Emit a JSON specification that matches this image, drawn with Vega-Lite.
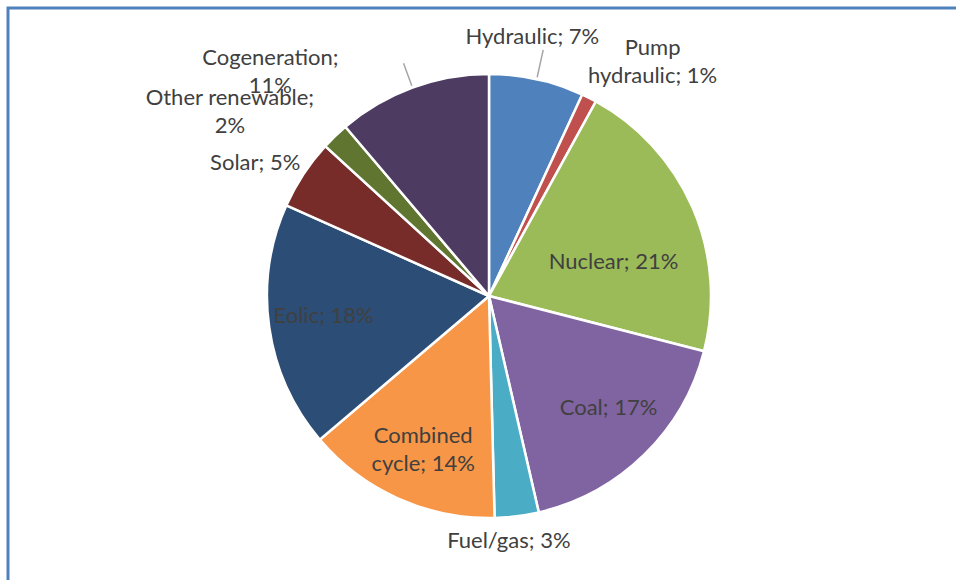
{
  "$schema": "https://vega.github.io/schema/vega-lite/v6.json",
  "width": 962,
  "height": 576,
  "padding": {"left": 8, "top": 8, "right": -14, "bottom": -4},
  "autosize": {"type": "none"},
  "background": "white",
  "view": {"stroke": "#4F81BD", "strokeWidth": 3, "fill": "white"},
  "data": {
    "values": [
      {"i": 1, "source": "Hydraulic", "share": 6.9, "label": "Hydraulic; 7%"},
      {"i": 2, "source": "Pump hydraulic", "share": 1.1, "label": "Pump\nhydraulic; 1%"},
      {"i": 3, "source": "Nuclear", "share": 21.0, "label": "Nuclear; 21%"},
      {"i": 4, "source": "Coal", "share": 17.4, "label": "Coal; 17%"},
      {"i": 5, "source": "Fuel/gas", "share": 3.2, "label": "Fuel/gas; 3%"},
      {"i": 6, "source": "Combined cycle", "share": 14.2, "label": "Combined\ncycle; 14%"},
      {"i": 7, "source": "Eolic", "share": 17.9, "label": "Eolic; 18%"},
      {"i": 8, "source": "Solar", "share": 5.1, "label": "Solar; 5%"},
      {"i": 9, "source": "Other renewable", "share": 2.0, "label": "Other renewable;\n2%"},
      {"i": 10, "source": "Cogeneration", "share": 11.2, "label": "Cogeneration;\n11%"}
    ]
  },
  "encoding": {
    "theta": {"field": "share", "type": "quantitative", "stack": true},
    "order": {"field": "i", "type": "quantitative"}
  },
  "layer": [
    {
      "mark": {"type": "arc", "outerRadius": 222, "stroke": "white", "strokeWidth": 2.5},
      "encoding": {
        "color": {
          "field": "source",
          "type": "nominal",
          "scale": {
            "domain": ["Hydraulic", "Pump hydraulic", "Nuclear", "Coal", "Fuel/gas", "Combined cycle", "Eolic", "Solar", "Other renewable", "Cogeneration"],
            "range": ["#4F81BD", "#C0504D", "#9BBB59", "#8064A2", "#4BACC6", "#F79646", "#2C4D75", "#772C2A", "#5F7530", "#4D3B62"]
          },
          "legend": null
        }
      }
    },
    {
      "mark": {"type": "arc", "innerRadius": 224, "outerRadius": 252, "padAngle": 3, "fillOpacity": 0, "stroke": "#A6A6A6", "strokeWidth": 1.5},
      "encoding": {"strokeOpacity": {"condition": {"test": "datum.source === 'Hydraulic'", "value": 1}, "value": 0}}
    },
    {
      "mark": {"type": "arc", "innerRadius": 224, "outerRadius": 248, "padAngle": 3, "fillOpacity": 0, "stroke": "#A6A6A6", "strokeWidth": 1.5},
      "encoding": {"strokeOpacity": {"condition": {"test": "datum.source === 'Cogeneration'", "value": 1}, "value": 0}}
    },
    {
      "mark": {"type": "text", "radius": 262, "dx": -13, "dy": -3, "font": "Lato", "fontSize": 22, "fill": "#404040", "align": "center", "baseline": "middle", "lineBreak": "\n", "lineHeight": 28},
      "encoding": {"text": {"condition": {"test": "datum.source === 'Hydraulic'", "field": "label", "type": "nominal"}, "value": ""}}
    },
    {
      "mark": {"type": "text", "radius": 285, "dx": 35, "dy": 6, "font": "Lato", "fontSize": 22, "fill": "#404040", "align": "center", "baseline": "middle", "lineBreak": "\n", "lineHeight": 28},
      "encoding": {"text": {"condition": {"test": "datum.source === 'Pump hydraulic'", "field": "label", "type": "nominal"}, "value": ""}}
    },
    {
      "mark": {"type": "text", "radius": 128, "dx": 7, "dy": 17, "font": "Lato", "fontSize": 22, "fill": "#404040", "align": "center", "baseline": "middle", "lineBreak": "\n", "lineHeight": 28},
      "encoding": {"text": {"condition": {"test": "datum.source === 'Nuclear'", "field": "label", "type": "nominal"}, "value": ""}}
    },
    {
      "mark": {"type": "text", "radius": 164, "dx": 5, "dy": -5, "font": "Lato", "fontSize": 22, "fill": "#404040", "align": "center", "baseline": "middle", "lineBreak": "\n", "lineHeight": 28},
      "encoding": {"text": {"condition": {"test": "datum.source === 'Coal'", "field": "label", "type": "nominal"}, "value": ""}}
    },
    {
      "mark": {"type": "text", "radius": 246, "dx": -11, "dy": 1, "font": "Lato", "fontSize": 22, "fill": "#404040", "align": "center", "baseline": "middle", "lineBreak": "\n", "lineHeight": 28},
      "encoding": {"text": {"condition": {"test": "datum.source === 'Fuel/gas'", "field": "label", "type": "nominal"}, "value": ""}}
    },
    {
      "mark": {"type": "text", "radius": 166, "dx": 2, "dy": -12, "font": "Lato", "fontSize": 22, "fill": "#404040", "align": "center", "baseline": "middle", "lineBreak": "\n", "lineHeight": 28},
      "encoding": {"text": {"condition": {"test": "datum.source === 'Combined cycle'", "field": "label", "type": "nominal"}, "value": ""}}
    },
    {
      "mark": {"type": "text", "radius": 161, "dx": -6, "dy": -3, "font": "Lato", "fontSize": 22, "fill": "#404040", "align": "center", "baseline": "middle", "lineBreak": "\n", "lineHeight": 28},
      "encoding": {"text": {"condition": {"test": "datum.source === 'Eolic'", "field": "label", "type": "nominal"}, "value": ""}}
    },
    {
      "mark": {"type": "text", "radius": 269, "dx": -9, "dy": 15, "font": "Lato", "fontSize": 22, "fill": "#404040", "align": "center", "baseline": "middle", "lineBreak": "\n", "lineHeight": 28},
      "encoding": {"text": {"condition": {"test": "datum.source === 'Solar'", "field": "label", "type": "nominal"}, "value": ""}}
    },
    {
      "mark": {"type": "text", "radius": 313, "dx": -42, "dy": 27, "font": "Lato", "fontSize": 22, "fill": "#404040", "align": "center", "baseline": "middle", "lineBreak": "\n", "lineHeight": 28},
      "encoding": {"text": {"condition": {"test": "datum.source === 'Other renewable'", "field": "label", "type": "nominal"}, "value": ""}}
    },
    {
      "mark": {"type": "text", "radius": 286, "dx": -120, "dy": 30, "font": "Lato", "fontSize": 22, "fill": "#404040", "align": "center", "baseline": "middle", "lineBreak": "\n", "lineHeight": 28},
      "encoding": {"text": {"condition": {"test": "datum.source === 'Cogeneration'", "field": "label", "type": "nominal"}, "value": ""}}
    }
  ]
}
